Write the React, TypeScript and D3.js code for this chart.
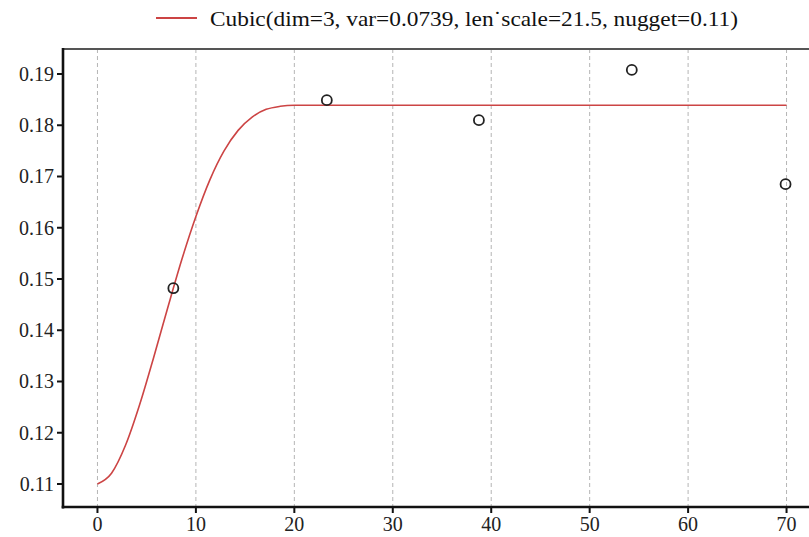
import React from "react";
import * as d3 from "d3";

const modelX = [0, 1.43, 2.86, 4.29, 5.71, 7.14, 8.57, 10.0, 11.43, 12.86, 14.29, 15.71, 17.14, 18.57, 20.0, 21.43, 70.0];
const modelY = [0.11, 0.1121, 0.1176, 0.1255, 0.1347, 0.1444, 0.1538, 0.1622, 0.1694, 0.175, 0.179, 0.1816, 0.1831, 0.1837, 0.1839, 0.1839, 0.1839];
const binX = [7.71, 23.3, 38.75, 54.28, 69.9];
const binY = [0.1482, 0.1849, 0.181, 0.1908, 0.1685];
const xTicks = [0, 10, 20, 30, 40, 50, 60, 70];
const yTicks = [0.11, 0.12, 0.13, 0.14, 0.15, 0.16, 0.17, 0.18, 0.19];
const legendLabel = "Cubic(dim=3, var=0.0739, len\u02D9scale=21.5, nugget=0.11)";

const W = 809;
const H = 537;
const L = 63, T = 49, R = 821, B = 507;
const FONT = "'Liberation Serif', 'DejaVu Serif', serif";
const RED = "#cc4444";

export default function App() {
  const x = d3.scaleLinear().domain([-3.5, 73.5]).range([L, R]);
  const y = d3.scaleLinear().domain([0.10551, 0.19488]).range([B, T]);
  const line = d3
    .line<number>()
    .x((_, i) => x(modelX[i]))
    .y((d) => y(d))
    .curve(d3.curveMonotoneX);
  return (
    <svg
      width={W}
      height={H}
      style={{ position: "absolute", left: 0, top: 0, background: "#fff" }}
      fontFamily={FONT}
    >
      <rect x={0} y={0} width={W} height={H} fill="#fff" />
      {xTicks.map((t) => (
        <line
          key={"g" + t}
          x1={x(t)}
          x2={x(t)}
          y1={T}
          y2={B}
          stroke="#b5b5b5"
          strokeWidth={1}
          strokeDasharray="4,3"
        />
      ))}
      <path d={line(modelY) || ""} fill="none" stroke={RED} strokeWidth={1.6} />
      {binX.map((bx, i) => (
        <circle
          key={"c" + i}
          cx={x(bx)}
          cy={y(binY[i])}
          r={5}
          fill="none"
          stroke="#222"
          strokeWidth={1.8}
        />
      ))}
      {/* frame */}
      <line x1={L} x2={W} y1={T} y2={T} stroke="#555" strokeWidth={1.8} />
      <line x1={L} x2={L} y1={T - 1} y2={B + 1.5} stroke="#111" strokeWidth={2.6} />
      <line x1={L - 1.3} x2={W} y1={B} y2={B} stroke="#111" strokeWidth={2.6} />
      {yTicks.map((t) => (
        <g key={"y" + t}>
          <line x1={L - 6} x2={L} y1={y(t)} y2={y(t)} stroke="#111" strokeWidth={2} />
          <text
            x={L - 9}
            y={y(t)}
            dy="0.34em"
            textAnchor="end"
            fontSize={20}
            fill="#222"
          >
            {t.toFixed(2)}
          </text>
        </g>
      ))}
      {xTicks.map((t) => (
        <g key={"x" + t}>
          <line x1={x(t)} x2={x(t)} y1={B} y2={B + 6} stroke="#111" strokeWidth={2} />
          <text x={x(t)} y={B + 24} textAnchor="middle" fontSize={20} fill="#222">
            {t}
          </text>
        </g>
      ))}
      <line x1={156} x2={197} y1={18} y2={18} stroke={RED} strokeWidth={1.8} />
      <text
        x={210}
        y={26}
        fontSize={21}
        fill="#111"
        textLength={528}
        lengthAdjust="spacingAndGlyphs"
      >
        {legendLabel}
      </text>
    </svg>
  );
}
